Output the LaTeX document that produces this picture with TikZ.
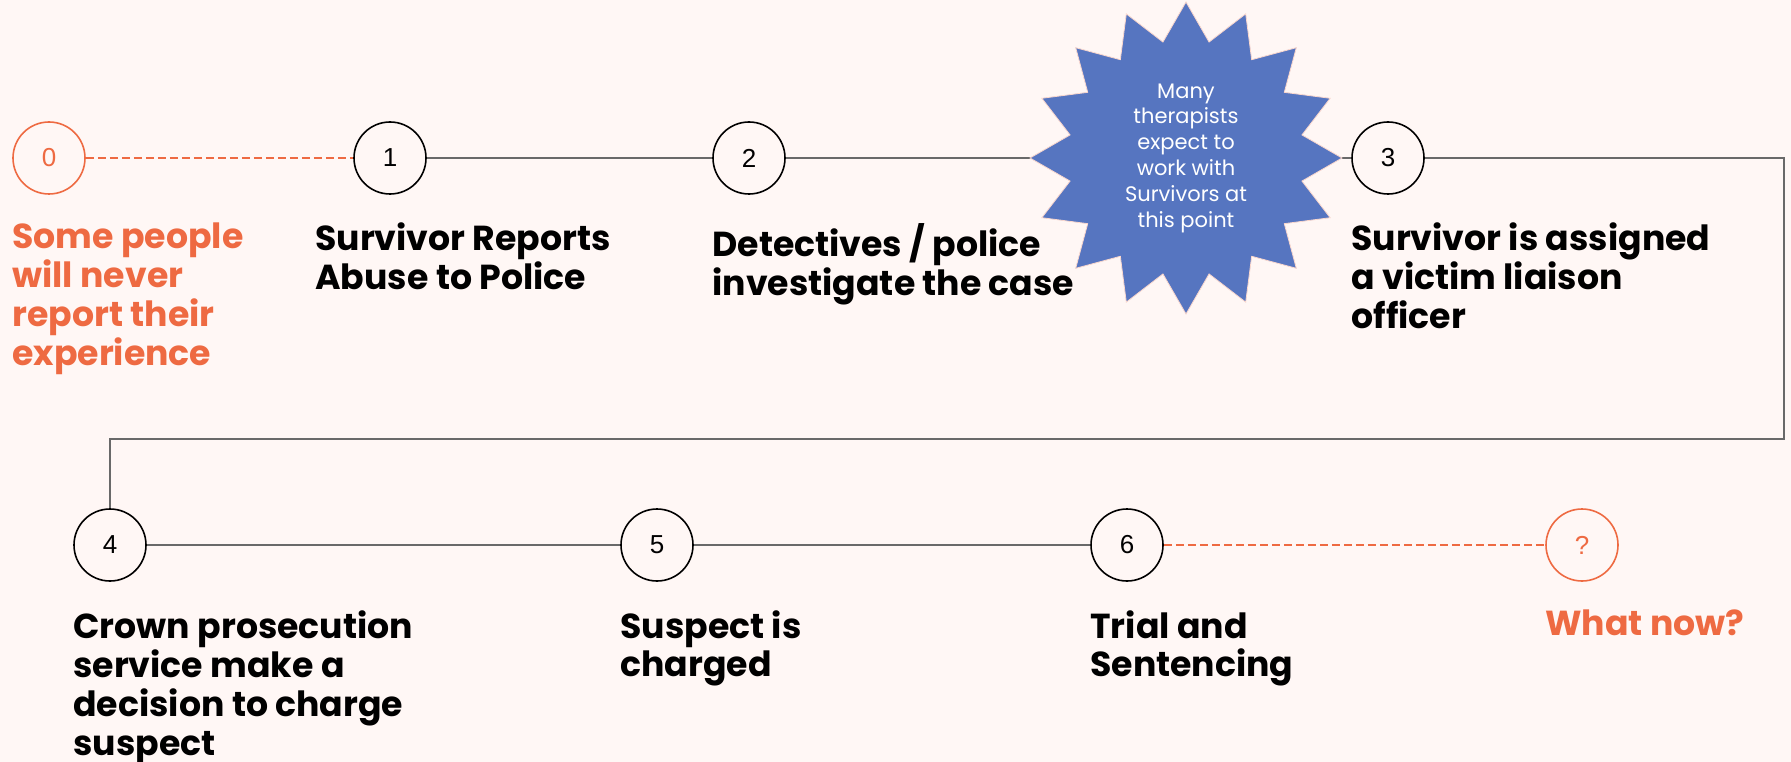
\documentclass[tikz,border=0pt]{standalone}
\usepackage{fontspec}
\setmainfont{Poppins}
\newfontfamily\numfont{Liberation Sans}
\usetikzlibrary{shapes.geometric,positioning}
\definecolor{bgpink}{RGB}{255,247,245}
\definecolor{accent}{RGB}{238,106,66}
\definecolor{starblue}{RGB}{86,117,192}
\definecolor{starrim}{RGB}{250,215,205}
\definecolor{linegray}{RGB}{105,105,105}

\begin{document}
\begin{tikzpicture}[x=1pt,y=-1pt,
  stepnum/.style={circle,draw=black,line width=1.6pt,fill=bgpink,minimum size=72pt,inner sep=0pt,font=\numfont\fontsize{26}{26}\selectfont},
  openstep/.style={stepnum,draw=accent,text=accent},
  steptext/.style={anchor=north west,inner sep=0pt,align=left,font=\fontsize{34.7}{39}\selectfont\bfseries},
  opentext/.style={steptext,text=accent},
  link/.style={draw=linegray,line width=2pt},
  openlink/.style={draw=accent,line width=2pt,dash pattern=on 8pt off 4pt}]

\path[use as bounding box,fill=bgpink] (0,0) rectangle (1791,762);

\node[openstep] (c0) at (49,158) {0};
\node[stepnum] (c1) at (390,158) {1};
\node[stepnum] (c2) at (749,158) {2};
\node[stepnum] (c3) at (1388,158) {3};
\node[stepnum] (c4) at (110,545) {4};
\node[stepnum] (c5) at (657,545) {5};
\node[stepnum] (c6) at (1127,545) {6};
\node[openstep] (cq) at (1582,545) {?};
\coordinate (turn) at (1784,439);

\draw[openlink] (c0) -- (c1);
\draw[link] (c1) -- (c2);
\draw[link] (c2) -- (c3);
\draw[link] (c3) -| (turn) -| (c4);
\draw[link] (c4) -- (c5);
\draw[link] (c5) -- (c6);
\draw[openlink] (c6) -- (cq);

\node[star,star points=16,star point ratio=1.32,minimum size=312pt,inner sep=0pt,
  fill=starblue,draw=starrim,line width=0.8pt,text=white,align=center,
  font=\fontsize{21}{25.8}\selectfont] (burst) at (1186,158)
  {Many\\therapists\\expect to\\work with\\Survivors at\\this point};

\node[opentext] (t0) at ([yshift=-65pt]c0.west) {Some people\\will never\\report their\\experience};
\node[steptext] (t1) at ([xshift=-38pt,yshift=-65pt]c1.west) {Survivor Reports\\Abuse to Police};
\node[steptext] (t2) at ([yshift=-65pt]c2.west) {Detectives / police\\investigate the case};
\node[steptext] (t3) at ([yshift=-65pt]c3.west) {Survivor is assigned\\a victim liaison\\officer};
\node[steptext] (t4) at ([yshift=-65pt]c4.west) {Crown prosecution\\service make a\\decision to charge\\suspect};
\node[steptext] (t5) at ([yshift=-65pt]c5.west) {Suspect is\\charged};
\node[steptext] (t6) at ([yshift=-65pt]c6.west) {Trial and\\Sentencing};
\node[opentext] (tq) at ([yshift=-65pt]cq.west) {What now?};
\end{tikzpicture}
\end{document}
